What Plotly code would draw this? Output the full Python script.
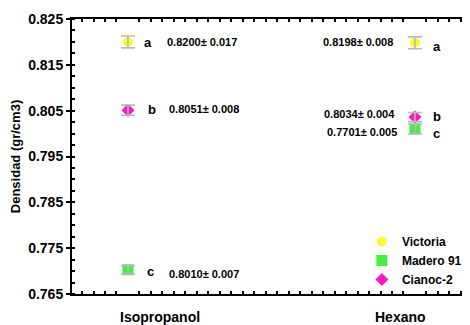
import plotly.graph_objects as go

# ---------------- data ----------------
categories = ["Isopropanol", "Hexano"]
series_names = ["Victoria", "Madero 91", "Cianoc-2"]

victoria = [0.8200, 0.8198]
madero = [0.7703, 0.8010]
cianoc = [0.8051, 0.8036]

victoria_err = [0.0013, 0.0013]
madero_err = [0.0009, 0.0011]
cianoc_err = [0.0011, 0.0010]

victoria_letters = ["a", "a"]
madero_letters = ["c", "c"]
cianoc_letters = ["b", "b"]

victoria_labels = ["0.8200\u00b1 0.017", "0.8198\u00b1 0.008"]
madero_labels = ["0.8010\u00b1 0.007", "0.7701\u00b1 0.005"]
cianoc_labels = ["0.8051\u00b1 0.008", "0.8034\u00b1 0.004"]

y_ticks = [0.765, 0.775, 0.785, 0.795, 0.805, 0.815, 0.825]

# ---------------- styling ----------------
FONT = "Liberation Sans, Arial, sans-serif"
x_pos = [i + 1 for i in range(len(categories))]

series = [
    ("Victoria", victoria, victoria_err, dict(symbol="circle", size=10, color="#f9f936")),
    ("Madero 91", madero, madero_err, dict(symbol="square", size=11, color="#44ee44")),
    ("Cianoc-2", cianoc, cianoc_err, dict(symbol="diamond", size=10, color="#ff18c8")),
]

fig = go.Figure()
for name, vals, errs, mk in series:
    fig.add_trace(go.Scatter(
        x=x_pos, y=vals, mode="markers", name=name,
        marker=dict(line=dict(width=0), **mk),
        hoverinfo="skip",
    ))
# error bars drawn on top of the markers
for name, vals, errs, mk in series:
    fig.add_trace(go.Scatter(
        x=x_pos, y=vals, mode="markers", showlegend=False,
        marker=dict(size=1, opacity=0),
        error_y=dict(type="data", array=errs, visible=True,
                     color="#b8b8b8", thickness=1.6, width=7),
        hoverinfo="skip",
    ))

annotations = []
letter_font = dict(family=FONT, size=13, color="black", weight="bold")
num_font = dict(family=FONT, size=11, color="black", weight="bold")

# per-category, per-series pixel offsets for letters and value labels
letter_dx = {"Victoria": [20, 22], "Madero 91": [23, 22], "Cianoc-2": [24, 22]}
letter_dy = {"Victoria": [-1, -4], "Madero 91": [-2, -4], "Cianoc-2": [1, 1]}
num_dx = {"Victoria": [37, -20], "Madero 91": [39, -16], "Cianoc-2": [39, -18]}
num_dy = {"Victoria": [0, 1], "Madero 91": [-4, -3], "Cianoc-2": [1, 3]}

for name, vals, letters, labels in [
    ("Victoria", victoria, victoria_letters, victoria_labels),
    ("Madero 91", madero, madero_letters, madero_labels),
    ("Cianoc-2", cianoc, cianoc_letters, cianoc_labels),
]:
    for i, (xv, yv) in enumerate(zip(x_pos, vals)):
        annotations.append(dict(
            x=xv, y=yv, xref="x", yref="y", text=letters[i], showarrow=False,
            xshift=letter_dx[name][i], yshift=letter_dy[name][i],
            xanchor="center", yanchor="middle", font=letter_font))
        annotations.append(dict(
            x=xv, y=yv, xref="x", yref="y", text=labels[i], showarrow=False,
            xshift=num_dx[name][i], yshift=num_dy[name][i],
            xanchor="left" if i == 0 else "right", yanchor="middle", font=num_font))

# category labels under the axis
cat_dx = [32, -14]
for i, c in enumerate(categories):
    annotations.append(dict(
        x=x_pos[i], y=0, xref="x", yref="paper", text=c, showarrow=False,
        xshift=cat_dx[i], yshift=-23, xanchor="center", yanchor="middle",
        font=dict(family=FONT, size=14, color="black", weight="bold")))

fig.update_layout(
    width=470, height=325,
    margin=dict(l=64, r=0, t=11, b=39, autoexpand=False),
    paper_bgcolor="white", plot_bgcolor="white",
    font=dict(family=FONT, color="black"),
    annotations=annotations,
    legend=dict(
        x=0.714, y=0.2436, xanchor="left", yanchor="top",
        bgcolor="rgba(0,0,0,0)",
        font=dict(family=FONT, size=12, color="black", weight="bold"),
        tracegroupgap=0,
    ),
    xaxis=dict(
        range=[0.805, 2.2196], showgrid=False, zeroline=False, automargin=False,
        showline=True, linecolor="black", linewidth=2, mirror="ticks",
        showticklabels=False, ticks="",
        minor=dict(ticks="inside", tick0=1, dtick=0.04, ticklen=3,
                   tickwidth=1.5, tickcolor="black", showgrid=False),
    ),
    yaxis=dict(
        range=[0.765, 0.825], showgrid=False, zeroline=False, automargin=False,
        showline=True, linecolor="black", linewidth=2, mirror=False,
        tickvals=y_ticks, tickformat=".3f", ticks="outside", ticklen=4,
        tickwidth=1.5, tickcolor="black",
        tickfont=dict(family=FONT, size=14, color="black", weight="bold"),
        minor=dict(ticks="inside", dtick=0.0025, tick0=0.765, ticklen=3,
                   tickwidth=1.5, tickcolor="black", showgrid=False),
        title=dict(text="Densidad (gr/cm3)", standoff=9,
                   font=dict(family=FONT, size=13, color="black", weight="bold")),
    ),
)

fig.write_html("out.html")
